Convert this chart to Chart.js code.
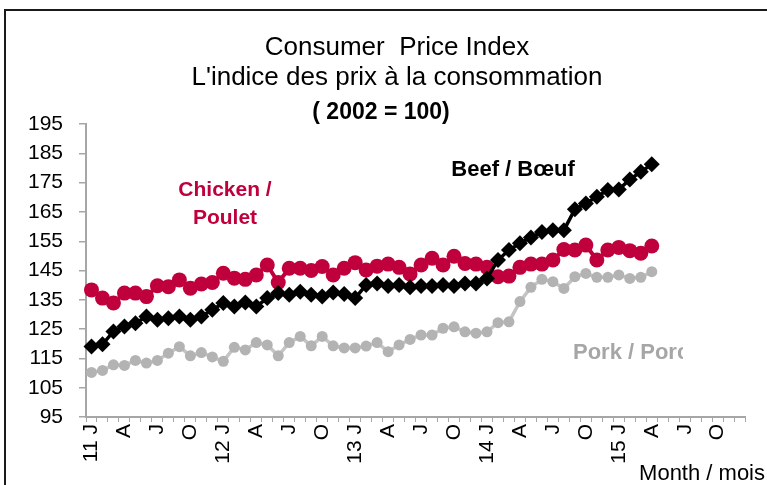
<!DOCTYPE html>
<html><head><meta charset="utf-8">
<script src="https://cdn.jsdelivr.net/npm/chart.js@4.4.0/dist/chart.umd.min.js"></script>
<style>
html,body{margin:0;padding:0;background:#fff;overflow:hidden;}
#wrap{position:relative;width:767px;height:485px;overflow:hidden;}
#frame{position:absolute;left:4px;top:9px;width:900px;height:600px;border-left:2px solid #1a1a1a;border-top:2px solid #1a1a1a;}
canvas{position:absolute;left:0;top:0;}
</style></head><body>
<div id="wrap"><div id="frame"></div><canvas id="c" width="767" height="485"></canvas></div>
<script>
// ---- data ----
const years = ["11", "12", "13", "14", "15"];
const monthLetters = ["J", "", "", "A", "", "", "J", "", "", "O", "", ""];
const titleLines = ["Consumer  Price Index", "L'indice des prix à la consommation"];
const subtitleText = "( 2002 = 100)";
const xAxisTitle = "Month / mois";
const seriesNames = ["Beef / Bœuf", "Chicken /", "Poulet", "Pork / Porc"];

// Jan 2011 .. Apr 2015 (52 months)
const beef = [119.1, 119.8, 124.2, 125.9, 127.0, 129.3, 128.2, 128.7, 129.3, 128.2, 129.3, 131.6,
  133.9, 132.7, 134.1, 132.7, 135.6, 137.3, 136.7, 137.8, 136.7, 136.1, 137.5, 137.0,
  135.6, 140.1, 140.6, 139.7, 140.1, 139.3, 139.7, 139.7, 140.1, 139.7, 140.6, 140.6,
  142.3, 148.6, 152.0, 154.3, 156.3, 158.2, 158.8, 158.8, 165.9, 167.9, 170.2, 172.5,
  172.7, 176.1, 178.7, 181.3];
const chicken = [138.4, 135.6, 133.9, 137.3, 137.3, 136.1, 139.8, 139.5, 141.8, 139.0, 140.4, 140.9,
  144.1, 142.4, 142.0, 143.5, 146.9, 140.9, 145.8, 145.8, 145.0, 146.4, 143.5, 145.8,
  147.7, 145.2, 146.5, 147.2, 146.1, 143.8, 146.9, 149.2, 146.9, 149.9, 147.4, 147.2,
  146.1, 142.9, 143.1, 146.1, 147.2, 147.2, 148.6, 152.2, 152.0, 153.7, 148.6, 152.0,
  152.9, 151.8, 150.9, 153.4];
const pork = [110.2, 110.9, 112.8, 112.6, 114.3, 113.4, 114.3, 116.8, 119.0, 115.9, 117.0, 115.5,
  114.0, 118.8, 117.9, 120.4, 119.6, 115.9, 120.4, 122.5, 119.3, 122.5, 119.3, 118.6,
  118.6, 119.2, 120.4, 117.3, 119.6, 121.5, 123.0, 123.0, 125.3, 125.8, 124.1, 123.6,
  124.1, 127.2, 127.5, 134.4, 139.3, 142.0, 141.2, 138.9, 142.9, 144.0, 142.7, 142.7,
  143.5, 142.3, 142.7, 144.6];
const yMin = 95, yMax = 195, yStep = 10;

// ---- build labels ----
const labels = [];
years.forEach(y => monthLetters.forEach((m, k) => labels.push(k === 0 ? y + " " + m : m)));

const F = "'Liberation Sans', Arial, sans-serif";
const RED = "#C0003C", GREY_LINE = "#C4C4C4", GREY_PT = "#B3B3B3", GREY_TXT = "#A6A6A6";

const notesPlugin = {
  id: 'notes',
  afterDraw(chart) {
    const ctx = chart.ctx;
    ctx.save();
    ctx.textBaseline = 'middle';
    ctx.font = "bold 21px " + F;
    ctx.fillStyle = RED; ctx.textAlign = 'center';
    ctx.fillText(seriesNames[1], 225, 190);
    ctx.fillText(seriesNames[2], 225, 218);
    ctx.font = "bold 22px " + F;
    ctx.fillStyle = "#000";
    ctx.fillText(seriesNames[0], 513, 170);
    ctx.save();
    ctx.beginPath(); ctx.rect(0, 0, 683, 485); ctx.clip();
    ctx.font = "bold 22px " + F;
    ctx.fillStyle = GREY_TXT; ctx.textAlign = 'left';
    ctx.fillText(seriesNames[3], 573, 353);
    ctx.restore();
    ctx.font = "22px " + F;
    ctx.fillStyle = "#000"; ctx.textAlign = 'right';
    ctx.fillText(xAxisTitle, 765, 474);
    ctx.restore();
  }
};

new Chart(document.getElementById('c'), {
  type: 'line',
  data: {
    labels: labels,
    datasets: [
      { label: seriesNames[0], data: beef, borderColor: '#000', backgroundColor: '#000',
        borderWidth: 3.5, pointStyle: 'rectRot', pointRadius: 8, pointBorderWidth: 0, tension: 0 },
      { label: seriesNames[1] + " " + seriesNames[2], data: chicken, borderColor: RED, backgroundColor: RED,
        borderWidth: 4, pointStyle: 'circle', pointRadius: 7.5, pointBorderWidth: 0, tension: 0 },
      { label: seriesNames[3], data: pork, borderColor: GREY_LINE, backgroundColor: GREY_PT,
        borderWidth: 3.5, pointStyle: 'circle', pointRadius: 5.5, pointBorderWidth: 0, tension: 0 }
    ]
  },
  options: {
    responsive: false,
    animation: false,
    devicePixelRatio: 1,
    layout: { padding: { left: 27, right: 0, top: 0, bottom: 0 } },
    plugins: {
      legend: { display: false },
      tooltip: { enabled: false },
      title: { display: true, text: titleLines, color: '#000',
        font: { family: F, size: 26, weight: 'normal', lineHeight: 1.15 },
        padding: { top: 33, bottom: 6 } },
      subtitle: { display: true, text: subtitleText + "\u00A0".repeat(5), color: '#000',
        font: { family: F, size: 23, weight: 'bold', lineHeight: 0.97 },
        padding: { top: 3, bottom: 0 } }
    },
    scales: {
      x: {
        offset: true,
        grid: { display: true, drawOnChartArea: false, drawTicks: true, tickLength: 5, color: '#a6a6a6', offset: true, lineWidth: 1 },
        border: { display: true, color: '#a6a6a6', width: 2 },
        ticks: { autoSkip: false, maxRotation: 90, minRotation: 90, color: '#000', font: { family: F, size: 21 }, padding: 2 },
        afterFit: s => { s.height = 68; }
      },
      y: {
        min: yMin, max: yMax,
        ticks: { stepSize: yStep, color: '#000', font: { family: F, size: 21 }, padding: 16 },
        grid: { drawOnChartArea: false, drawTicks: true, tickLength: 7, color: '#a6a6a6', lineWidth: 1.5 },
        border: { display: true, color: '#a6a6a6', width: 2 },
        afterFit: s => { s.width = 59; }
      },
      yPad: {
        type: 'linear', position: 'right', display: true,
        grid: { display: false, drawTicks: false }, border: { display: false },
        ticks: { display: false },
        afterFit: s => { s.width = 16; }
      }
    }
  },
  plugins: [notesPlugin]
});
</script>
</body></html>
